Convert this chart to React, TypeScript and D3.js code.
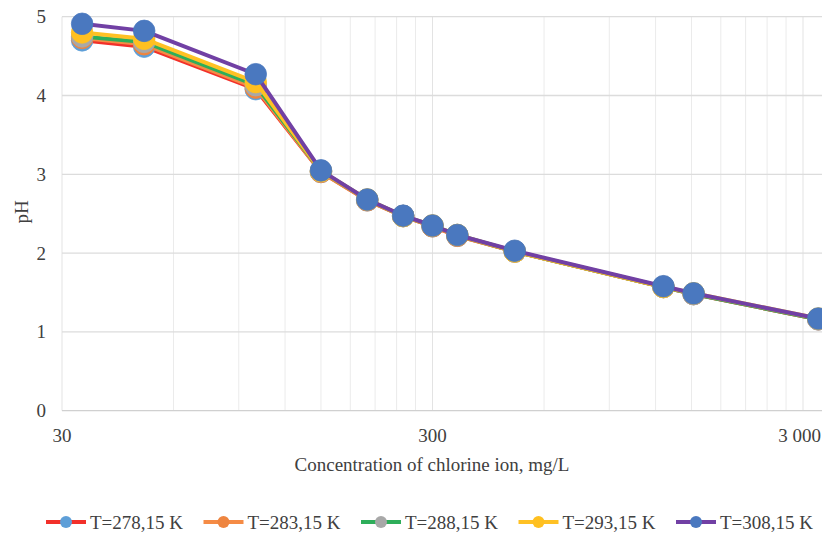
import React from "react";
import * as d3 from "d3";

const concentrations = [34, 50, 100, 150, 200, 250, 300, 350, 500, 1260, 1520, 3300];
const seriesNames = ["T=278,15 K", "T=283,15 K", "T=288,15 K", "T=293,15 K", "T=308,15 K"];
const ph278 = [4.70, 4.62, 4.08, 3.03, 2.67, 2.47, 2.34, 2.22, 2.02, 1.57, 1.48, 1.16];
const ph283 = [4.73, 4.65, 4.10, 3.03, 2.67, 2.47, 2.34, 2.22, 2.02, 1.57, 1.48, 1.16];
const ph288 = [4.75, 4.68, 4.13, 3.04, 2.68, 2.47, 2.35, 2.23, 2.02, 1.57, 1.48, 1.16];
const ph293 = [4.80, 4.72, 4.17, 3.04, 2.68, 2.47, 2.35, 2.23, 2.02, 1.57, 1.49, 1.17];
const ph308 = [4.91, 4.82, 4.27, 3.05, 2.68, 2.475, 2.35, 2.23, 2.03, 1.58, 1.49, 1.17];
const yTicks = [0, 1, 2, 3, 4, 5];
const xTicks = [30, 300, 3000];
const xTickLabels = ["30", "300", "3 000"];

const lineColors = ["#F2302A", "#F58B45", "#2EAE5A", "#FFC124", "#7140A4"];
const markerColors = ["#5E9FD8", "#EE8540", "#A8A8A8", "#FFC020", "#4A78BF"];

const W = 822;
const H = 533;
const left = 62;
const decade = 370.5;
const y0 = 410.7;
const y5 = 16.7;
const FONT = "'Liberation Serif', 'Times New Roman', serif";

export default function App() {
  const x = d3.scaleLog().domain([30, 30000]).range([left, left + 3 * decade]);
  const y = d3.scaleLinear().domain([0, 5]).range([y0, y5]);
  const right = W + 5;

  const minor: number[] = [];
  [30, 300, 3000].forEach((b) => {
    for (let k = 2; k <= 9; k++) minor.push(b * k);
  });

  const all = [ph278, ph283, ph288, ph293, ph308];
  const line = d3
    .line<number>()
    .x((_, i) => x(concentrations[i]))
    .y((d) => y(d));

  const legendStep = 157.5;
  const legendX0 = 46;
  const legendY = 522;

  return (
    <svg
      width={W}
      height={H}
      style={{ position: "absolute", left: 0, top: 0, background: "#fff" }}
      fontFamily={FONT}
    >
      <rect x={0} y={0} width={W} height={H} fill="#fff" />
      {/* vertical gridlines */}
      {minor
        .filter((v) => x(v) < right)
        .map((v) => (
          <line key={"m" + v} x1={x(v)} x2={x(v)} y1={y5} y2={y0} stroke="#EBEBEB" strokeWidth={1} />
        ))}
      {xTicks.map((v) => (
        <line key={"M" + v} x1={x(v)} x2={x(v)} y1={y5} y2={y0} stroke="#E3E3E3" strokeWidth={1} />
      ))}
      {/* horizontal gridlines */}
      {yTicks.map((v) => (
        <line
          key={"h" + v}
          x1={left}
          x2={right}
          y1={y(v)}
          y2={y(v)}
          stroke={v === 0 ? "#D0D0D0" : "#DCDCDC"}
          strokeWidth={1.3}
        />
      ))}
      {/* y tick labels */}
      {yTicks.map((v) => (
        <text key={"yt" + v} x={46} y={y(v) + 6.5} textAnchor="end" fontSize={19} fill="#404040">
          {v}
        </text>
      ))}
      {/* x tick labels */}
      {xTicks.map((v, i) => {
        const px = x(v);
        const last = i === xTicks.length - 1;
        return (
          <text
            key={"xt" + v}
            x={last ? Math.min(px + 21, W - 1) : px}
            y={442}
            textAnchor={last ? "end" : "middle"}
            fontSize={19}
            fill="#404040"
          >
            {xTickLabels[i]}
          </text>
        );
      })}
      {/* axis titles */}
      <text x={432} y={471} textAnchor="middle" fontSize={19} fill="#404040">
        Concentration of chlorine ion, mg/L
      </text>
      <text
        transform={`translate(28, 212) rotate(-90)`}
        textAnchor="middle"
        fontSize={19}
        fill="#404040"
      >
        pH
      </text>
      {/* series */}
      {all.map((vals, s) => (
        <g key={"s" + s}>
          <path d={line(vals) || ""} fill="none" stroke={lineColors[s]} strokeWidth={4} strokeLinejoin="round" />
          {vals.map((v, i) => (
            <circle
              key={i}
              cx={x(concentrations[i])}
              cy={y(v)}
              r={10.8}
              fill={markerColors[s]}
              stroke={markerColors[s]}
              strokeWidth={0.75}
            />
          ))}
        </g>
      ))}
      {/* legend */}
      {seriesNames.map((name, s) => {
        const lx = legendX0 + s * legendStep;
        return (
          <g key={"lg" + s}>
            <line x1={lx} x2={lx + 40} y1={legendY} y2={legendY} stroke={lineColors[s]} strokeWidth={4} />
            <circle cx={lx + 20} cy={legendY} r={6} fill={markerColors[s]} />
            <text x={lx + 44} y={legendY + 6.5} fontSize={19} fill="#404040">
              {name}
            </text>
          </g>
        );
      })}
    </svg>
  );
}
